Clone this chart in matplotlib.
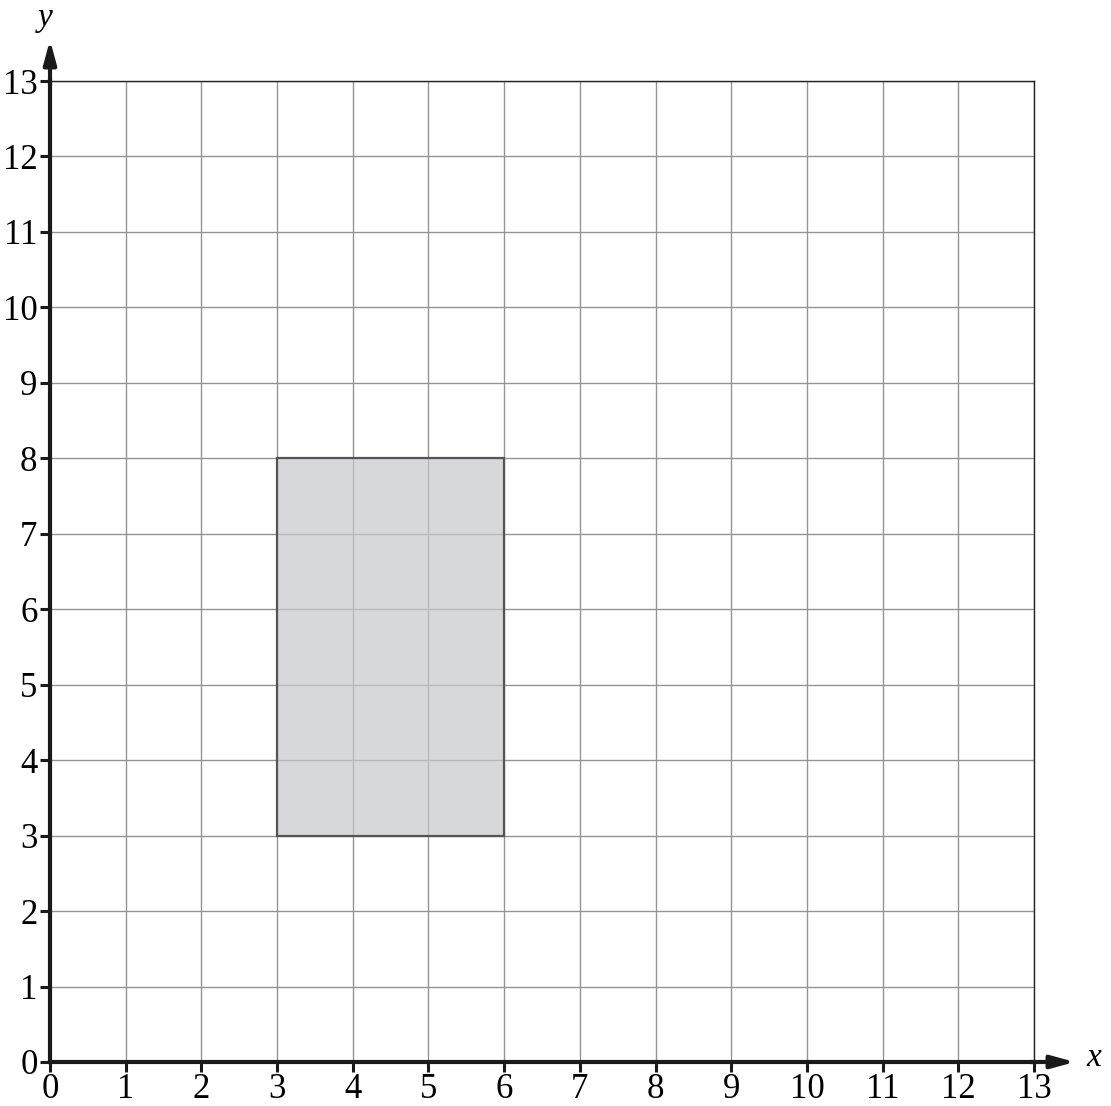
import matplotlib
matplotlib.use('Agg')
import matplotlib.pyplot as plt
from matplotlib.patches import Rectangle

plt.rcParams['font.family'] = ['Liberation Serif', 'DejaVu Serif']

x_ticks = list(range(0, 14))
y_ticks = list(range(0, 14))
rect_x = [3, 6]
rect_y = [3, 8]

fig = plt.figure(figsize=(11.11, 11.06), dpi=100)
ax = fig.add_axes([50 / 1111, 44 / 1106, 984 / 1111, 981 / 1106])
ax.set_xlim(0, 13)
ax.set_ylim(0, 13)

ax.set_xticks(x_ticks)
ax.set_yticks(y_ticks)
ax.grid(True, color='#949494', linewidth=1.0, zorder=1)
ax.set_axisbelow(True)

# shaded rectangle
ax.add_patch(Rectangle((rect_x[0], rect_y[0]), rect_x[1] - rect_x[0], rect_y[1] - rect_y[0],
                       facecolor='#c6c8cc', alpha=0.7, edgecolor='none', zorder=2))
ax.add_patch(Rectangle((rect_x[0], rect_y[0]), rect_x[1] - rect_x[0], rect_y[1] - rect_y[0],
                       facecolor='none', edgecolor='#555555', linewidth=1.6, zorder=3))

for side in ['top', 'right']:
    ax.spines[side].set_linewidth(1.0)
    ax.spines[side].set_color('#222222')
for side in ['left', 'bottom']:
    ax.spines[side].set_linewidth(3.0)
    ax.spines[side].set_color('#1a1a1a')
    ax.spines[side].set_zorder(5)

ax.tick_params(axis='both', direction='out', length=7, width=2.2, color='#1a1a1a',
               labelsize=25, pad=2)
ax.tick_params(axis='x', pad=1)

# arrows
arrow = dict(arrowstyle='-|>,head_length=1.4,head_width=0.38', color='#1a1a1a', lw=3,
             shrinkA=0, shrinkB=0)
ax.annotate('', xy=(1075 / 1111, 44 / 1106), xycoords='figure fraction',
            xytext=(1030 / 1111, 44 / 1106), arrowprops=arrow)
ax.annotate('', xy=(50 / 1111, 1 - 40 / 1106), xycoords='figure fraction',
            xytext=(50 / 1111, 1 - 85 / 1106), arrowprops=arrow)

fig.text(1094 / 1111, 1 - 1058 / 1106, 'x', fontsize=24, style='italic', ha='center', va='center')
fig.text(45 / 1111, 1 - 18 / 1106, 'y', fontsize=24, style='italic', ha='center', va='center')

fig.savefig('out.png', dpi=100)
plt.close(fig)
